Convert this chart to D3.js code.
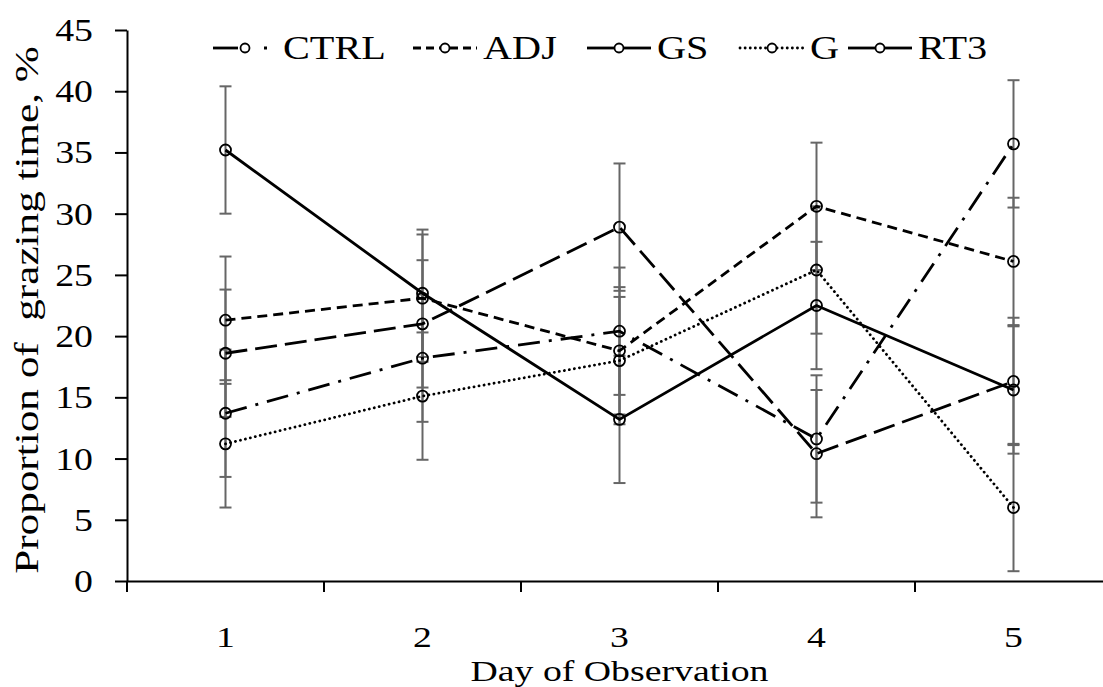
<!DOCTYPE html>
<html>
<head>
<meta charset="utf-8">
<script src="https://cdn.jsdelivr.net/npm/d3@7"></script>
<style>
  html, body { margin: 0; padding: 0; background: #fff; }
  svg { display: block; }
</style>
</head>
<body>
<svg id="chart" width="1103" height="687"></svg>
<script>
// ---------- data ----------
const days = ["1", "2", "3", "4", "5"];
const seriesNames = ["CTRL", "ADJ", "GS", "G", "RT3"];
const ctrlValues = [13.7, 18.2, 20.4, 11.6, 35.7];
const adjValues  = [21.3, 23.1, 18.8, 30.6, 26.1];
const gsValues   = [18.6, 21.0, 28.9, 10.4, 16.3];
const gValues    = [11.2, 15.1, 18.0, 25.4, 6.0];
const rt3Values  = [35.2, 23.5, 13.2, 22.5, 15.6];
const ctrlErr = [5.2, 5.2, 5.2, 5.2, 5.2];
const adjErr  = [5.2, 5.2, 5.2, 5.2, 5.2];
const gsErr   = [5.2, 5.2, 5.2, 5.2, 5.2];
const gErr    = [5.2, 5.2, 5.2, 5.2, 5.2];
const rt3Err  = [5.2, 5.2, 5.2, 5.2, 5.2];
const yTickValues = [0, 5, 10, 15, 20, 25, 30, 35, 40, 45];
const xTitle = "Day of Observation";
const yTitle = "Proportion of  grazing time, %";

// ---------- styles ----------
const dashStyles = {
  CTRL: "22,9,3,9",
  ADJ: "10,6",
  GS: "22,8",
  G: "0.1,5",
  RT3: null
};
const legendDash = {
  CTRL: ["25,100", "0,14,3,40"],
  ADJ: ["8,5", "8,5"],
  GS: [null, null],
  G: ["0.1,5", "0.1,5"],
  RT3: [null, null]
};
const series = [
  { name: "CTRL", values: ctrlValues, err: ctrlErr },
  { name: "ADJ",  values: adjValues,  err: adjErr },
  { name: "GS",   values: gsValues,   err: gsErr },
  { name: "G",    values: gValues,    err: gErr },
  { name: "RT3",  values: rt3Values,  err: rt3Err }
];

const FONT = "'Liberation Serif', 'Times New Roman', serif";
const SX = 1.22; // horizontal stretch of text as in reference

const svg = d3.select("#chart");

const x = d3.scaleBand().domain(days).range([127, 1112]).paddingInner(0).paddingOuter(0);
const y = d3.scaleLinear().domain([0, 45]).range([581, 30]);
const cx = d => x(d) + x.bandwidth() / 2;

// ---------- axes ----------
const yAxis = d3.axisLeft(y).tickValues(yTickValues).tickSize(12).tickSizeOuter(0).tickPadding(25);
const gy = svg.append("g").attr("transform", "translate(127,0)").call(yAxis);
gy.select(".domain").attr("stroke", "#000").attr("stroke-width", 2);
gy.selectAll(".tick line").attr("stroke", "#000").attr("stroke-width", 2);
gy.selectAll(".tick text")
  .attr("font-family", FONT).attr("font-size", 31).attr("fill", "#000")
  .attr("x", 0).attr("dy", "0.34em")
  .attr("transform", `translate(-34,0) scale(${SX},1)`);

// extend y axis line below x axis a bit
svg.append("line").attr("x1", 127).attr("x2", 127).attr("y1", y(0)).attr("y2", y(0) + 11)
  .attr("stroke", "#000").attr("stroke-width", 2);

const xAxis = d3.axisBottom(x).tickSize(0).tickSizeOuter(0).tickPadding(0);
const gx = svg.append("g").attr("transform", `translate(0,${y(0)})`).call(xAxis);
gx.select(".domain").attr("stroke", "#000").attr("stroke-width", 2);
gx.selectAll(".tick text")
  .attr("font-family", FONT).attr("font-size", 30).attr("fill", "#000")
  .attr("y", 0).attr("dy", 0)
  .attr("transform", `translate(0,66) scale(${SX * 1.03},1)`);

// category boundary ticks
const boundaries = days.map(d => x(d)).concat([x.range()[1]]);
svg.append("g").selectAll("line").data(boundaries).join("line")
  .attr("x1", d => d).attr("x2", d => d)
  .attr("y1", y(0)).attr("y2", y(0) + 11)
  .attr("stroke", "#000").attr("stroke-width", 2);

// axis titles
svg.append("text")
  .attr("transform", `translate(${(x.range()[0] + x.range()[1]) / 2},680.5) scale(1.26,1)`)
  .attr("text-anchor", "middle")
  .attr("font-family", FONT).attr("font-size", 30).attr("fill", "#000")
  .text(xTitle);

svg.append("text")
  .attr("transform", `translate(38,310) rotate(-90) scale(1.27,1)`)
  .attr("text-anchor", "middle")
  .attr("font-family", FONT).attr("font-size", 34).attr("fill", "#000")
  .style("white-space", "pre")
  .attr("xml:space", "preserve")
  .text(yTitle);

// ---------- error bars ----------
const eb = svg.append("g");
series.forEach(s => {
  days.forEach((d, i) => {
    const xc = cx(d);
    const hi = y(s.values[i] + s.err[i]);
    const lo = y(Math.max(0, s.values[i] - s.err[i]));
    eb.append("line").attr("x1", xc).attr("x2", xc).attr("y1", hi).attr("y2", lo)
      .attr("stroke", "#666").attr("stroke-width", 2);
    [hi, lo].forEach(v => eb.append("line")
      .attr("x1", xc - 6).attr("x2", xc + 6).attr("y1", v).attr("y2", v)
      .attr("stroke", "#666").attr("stroke-width", 2));
  });
});

// ---------- lines & markers ----------
const line = d3.line().x((v, i) => cx(days[i])).y(v => y(v));
series.forEach(s => {
  const p = svg.append("path").datum(s.values)
    .attr("d", line).attr("fill", "none")
    .attr("stroke", "#000").attr("stroke-width", 2.8);
  if (dashStyles[s.name]) p.attr("stroke-dasharray", dashStyles[s.name]);
  if (s.name === "G") p.attr("stroke-linecap", "round");
  svg.append("g").selectAll("circle").data(s.values).join("circle")
    .attr("cx", (v, i) => cx(days[i])).attr("cy", v => y(v)).attr("r", 5.5)
    .attr("fill", "none").attr("stroke", "#000").attr("stroke-width", 1.8);
});

// ---------- legend ----------
const legendX = [213, 413, 587, 740, 848];
const legY = 48;
const leg = svg.append("g");
seriesNames.forEach((name, k) => {
  const x0 = legendX[k];
  const g = leg.append("g");
  [[x0, x0 + 27], [x0 + 37, x0 + 64]].forEach(([a, b], j) => {
    const l = g.append("line").attr("x1", a).attr("x2", b).attr("y1", legY).attr("y2", legY)
      .attr("stroke", "#000").attr("stroke-width", 2.8);
    const da = legendDash[name][j];
    if (da) l.attr("stroke-dasharray", da);
    if (name === "G") l.attr("stroke-linecap", "round");
  });
  g.append("circle").attr("cx", x0 + 32).attr("cy", legY).attr("r", 4.5)
    .attr("fill", "none").attr("stroke", "#000").attr("stroke-width", 1.8);
  g.append("text")
    .attr("transform", `translate(${x0 + 70},59) scale(${SX},1)`)
    .attr("font-family", FONT).attr("font-size", 33).attr("fill", "#000")
    .text(name);
});
</script>
</body>
</html>
